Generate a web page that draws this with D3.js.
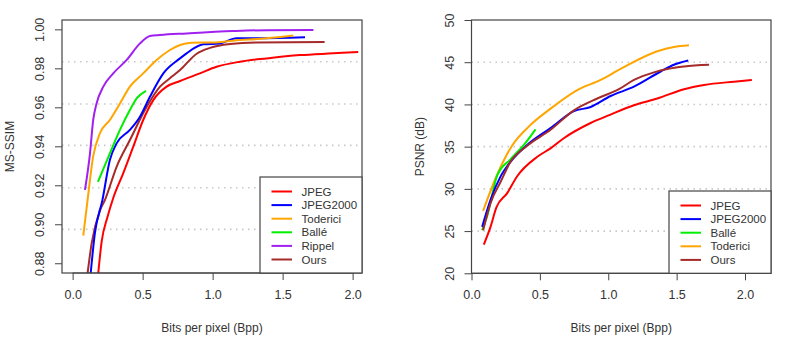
<!DOCTYPE html>
<html>
<head>
<meta charset="utf-8">
<script src="https://cdn.jsdelivr.net/npm/d3@7"></script>
<style>
  body { margin: 0; background: #fff; }
  svg text { font-family: "Liberation Sans", Arial, sans-serif; fill: #333; }
</style>
</head>
<body>
<svg id="chart" width="789" height="354"></svg>
<script>
// --- data: [bpp, value] ---
const bppTicks = [0, 0.5, 1.0, 1.5, 2.0];
const ssimTicks = [0.88, 0.90, 0.92, 0.94, 0.96, 0.98, 1.00];
const ssimGrid = [0.8974, 0.9187, 0.9405, 0.9617, 0.9834];
const psnrTicks = [20, 25, 30, 35, 40, 45, 50];
const psnrGrid = [25, 30, 35, 40, 45];

const ssimJpeg = [[0.183,0.875],[0.207,0.891],[0.25,0.904],[0.29,0.9135],[0.361,0.9261],[0.433,0.9398],[0.504,0.9535],[0.576,0.9637],[0.671,0.9706],[0.767,0.9735],[0.909,0.9774],[1.028,0.9808],[1.195,0.9834],[1.386,0.9851],[1.624,0.9868],[1.861,0.9877],[2.04,0.9884]];
const ssimJ2k = [[0.129,0.875],[0.159,0.8954],[0.213,0.9125],[0.266,0.933],[0.314,0.9415],[0.409,0.9484],[0.481,0.9552],[0.552,0.9654],[0.648,0.9774],[0.767,0.9851],[0.814,0.9877],[0.933,0.9923],[1.052,0.9928],[1.171,0.9954],[1.314,0.9954],[1.66,0.9959]];
const ssimToderici = [[0.076,0.8942],[0.104,0.9108],[0.147,0.935],[0.195,0.9467],[0.266,0.9535],[0.338,0.962],[0.409,0.9706],[0.504,0.9774],[0.60,0.9843],[0.695,0.9894],[0.767,0.992],[0.85,0.9931],[1.004,0.9933],[1.147,0.9942],[1.386,0.9954],[1.576,0.9968]];
const ssimBalle = [[0.181,0.9218],[0.266,0.9364],[0.338,0.9484],[0.409,0.9586],[0.46,0.9648],[0.524,0.9685]];
const ssimRippel = [[0.088,0.9176],[0.124,0.9364],[0.147,0.9535],[0.171,0.962],[0.219,0.9706],[0.29,0.9774],[0.386,0.9843],[0.481,0.9928],[0.552,0.9966],[0.624,0.9971],[0.814,0.9979],[1.147,0.9991],[1.386,0.9996],[1.72,0.9997]];
const ssimOurs = [[0.107,0.875],[0.136,0.8903],[0.195,0.907],[0.231,0.9125],[0.314,0.9295],[0.409,0.9432],[0.529,0.9603],[0.624,0.9706],[0.695,0.9749],[0.767,0.9791],[0.886,0.9875],[0.981,0.9905],[1.124,0.9925],[1.314,0.9933],[1.80,0.9935]];

const psnrJpeg = [[0.09,23.4],[0.139,25.5],[0.182,27.8],[0.261,29.5],[0.334,31.5],[0.481,33.8],[0.578,34.8],[0.675,36.0],[0.871,37.8],[1.017,38.8],[1.188,39.9],[1.359,40.7],[1.554,41.8],[1.70,42.3],[1.92,42.7],[2.05,42.9]];
const psnrJ2k = [[0.078,25.5],[0.139,28.7],[0.212,31.45],[0.285,33.2],[0.407,35.2],[0.578,37.2],[0.749,39.2],[0.871,39.7],[1.017,41.0],[1.188,42.1],[1.383,43.9],[1.48,44.7],[1.585,45.2]];
const psnrBalle = [[0.078,25.1],[0.115,26.8],[0.188,31.6],[0.285,33.5],[0.383,35.2],[0.468,37.05]];
const psnrToderici = [[0.085,27.4],[0.188,31.7],[0.30,35.2],[0.42,37.4],[0.578,39.5],[0.773,41.7],[0.944,42.9],[1.09,44.2],[1.359,46.3],[1.48,46.8],[1.59,47.0]];
const psnrOurs = [[0.085,25.1],[0.139,28.3],[0.212,30.8],[0.285,33.2],[0.407,35.1],[0.578,37.0],[0.749,39.3],[0.92,40.7],[1.078,41.8],[1.188,42.9],[1.334,43.8],[1.432,44.2],[1.554,44.5],[1.737,44.7]];

const colors = { JPEG: "#ff0000", JPEG2000: "#0000ff", Toderici: "#ffa500", "Ballé": "#00ee00", Rippel: "#a020f0", Ours: "#a52a2a" };

const svg = d3.select("#chart");

function drawPanel(p) {
  const x = d3.scaleLinear().domain(p.xDomain).range([p.left, p.right]);
  const y = d3.scaleLinear().domain(p.yDomain).range([p.bottom, p.top]);
  const g = svg.append("g");
  const clipId = "clip" + p.id;

  g.append("clipPath").attr("id", clipId)
    .append("rect").attr("x", p.left).attr("y", p.top)
    .attr("width", p.right - p.left).attr("height", p.bottom - p.top);

  // dotted horizontal grid
  g.selectAll(".grid").data(p.grid).join("line")
    .attr("x1", p.left).attr("x2", p.right)
    .attr("y1", d => y(d)).attr("y2", d => y(d))
    .attr("stroke", "#c8c8c8").attr("stroke-width", 1.6)
    .attr("stroke-dasharray", "1.5,4.5");

  // curves
  const line = d3.line().x(d => x(d[0])).y(d => y(d[1])).curve(d3.curveMonotoneX);
  g.append("g").attr("clip-path", `url(#${clipId})`)
    .selectAll("path").data(p.series).join("path")
    .attr("d", d => line(d.values))
    .attr("fill", "none")
    .attr("stroke", d => colors[d.name])
    .attr("stroke-width", 2)
    .attr("stroke-linejoin", "round");

  // axes
  const xAxis = g.append("g").attr("transform", `translate(0,${p.bottom})`)
    .call(d3.axisBottom(x).tickValues(bppTicks).tickFormat(d3.format(".1f")).tickSize(7).tickPadding(10));
  const yAxis = g.append("g").attr("transform", `translate(${p.left},0)`)
    .call(d3.axisLeft(y).tickValues(p.yTicks).tickFormat(p.yFormat).tickSize(7).tickPadding(0));
  [xAxis, yAxis].forEach(a => {
    a.select(".domain").remove();
    a.selectAll(".tick line").attr("stroke", "#444");
    a.selectAll("text").attr("font-size", 12.5).attr("fill", "#333");
  });
  yAxis.selectAll(".tick text")
    .attr("text-anchor", "middle")
    .attr("x", 0).attr("dy", 0)
    .attr("transform", `translate(${p.yLabelX - p.left},0) rotate(-90) translate(0,4)`);
  // axis lines spanning first to last tick (R style)
  g.append("line").attr("x1", x(bppTicks[0])).attr("x2", x(bppTicks[bppTicks.length - 1]))
    .attr("y1", p.bottom).attr("y2", p.bottom).attr("stroke", "#444");

  // frame
  g.append("rect").attr("x", p.left).attr("y", p.top)
    .attr("width", p.right - p.left).attr("height", p.bottom - p.top)
    .attr("fill", "none").attr("stroke", "#444").attr("stroke-width", 1.2);

  // titles
  g.append("text").attr("x", (p.left + p.right) / 2).attr("y", 332)
    .attr("text-anchor", "middle").attr("font-size", 12).text("Bits per pixel (Bpp)");
  g.append("text").attr("transform", `translate(${p.yTitleX},${(p.top + p.bottom) / 2}) rotate(-90)`)
    .attr("text-anchor", "middle").attr("dy", "0.35em").attr("font-size", 12).text(p.yTitle);

  // legend
  const lg = g.append("g");
  lg.append("rect").attr("x", p.legend.x).attr("y", p.legend.y)
    .attr("width", p.right - p.legend.x).attr("height", p.bottom - p.legend.y)
    .attr("fill", "#fff").attr("stroke", "#444").attr("stroke-width", 1.2);
  const rows = lg.selectAll(".row").data(p.legend.order).join("g")
    .attr("transform", (d, i) => `translate(${p.legend.x},${p.legend.y + 14.5 + i * 13.6})`);
  rows.append("line").attr("x1", 11.5).attr("x2", 32)
    .attr("stroke", d => colors[d]).attr("stroke-width", 2);
  rows.append("text").attr("x", 41.5).attr("dy", "0.35em").attr("font-size", 11.5).text(d => d);
}

drawPanel({
  id: "ssim", left: 62, right: 362, top: 20, bottom: 273,
  xDomain: [-0.076, 2.067], yDomain: [0.875, 1.0048],
  yTicks: ssimTicks, yFormat: d3.format(".2f"), grid: ssimGrid,
  yLabelX: 40, yTitleX: 10, yTitle: "MS-SSIM",
  series: [
    { name: "JPEG", values: ssimJpeg },
    { name: "Ours", values: ssimOurs },
    { name: "JPEG2000", values: ssimJ2k },
    { name: "Toderici", values: ssimToderici },
    { name: "Ballé", values: ssimBalle },
    { name: "Rippel", values: ssimRippel }
  ],
  legend: { x: 260, y: 177, order: ["JPEG", "JPEG2000", "Toderici", "Ballé", "Rippel", "Ours"] }
});

drawPanel({
  id: "psnr", left: 471.5, right: 771, top: 20, bottom: 273.3,
  xDomain: [0, 2.19], yDomain: [20, 50],
  yTicks: psnrTicks, yFormat: d3.format("d"), grid: psnrGrid,
  yLabelX: 450, yTitleX: 420, yTitle: "PSNR (dB)",
  series: [
    { name: "JPEG", values: psnrJpeg },
    { name: "Toderici", values: psnrToderici },
    { name: "Ballé", values: psnrBalle },
    { name: "JPEG2000", values: psnrJ2k },
    { name: "Ours", values: psnrOurs }
  ],
  legend: { x: 669, y: 191, order: ["JPEG", "JPEG2000", "Ballé", "Toderici", "Ours"] }
});
</script>
</body>
</html>
